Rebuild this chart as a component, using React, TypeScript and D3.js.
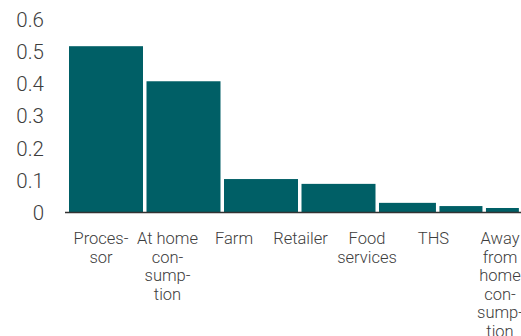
import React from "react";
import * as d3 from "d3";

const categories = ["Processor", "At home consumption", "Farm", "Retailer", "Food services", "THS", "Away from home consumption"];
const labelLines = [
  ["Proces-", "sor"],
  ["At home", "con-", "sump-", "tion"],
  ["Farm"],
  ["Retailer"],
  ["Food", "services"],
  ["THS"],
  ["Away", "from", "home", "con-", "sump-", "tion"],
];
const values = [0.517, 0.408, 0.104, 0.089, 0.03, 0.02, 0.014];
const shares = [1, 1, 1, 1, 0.78, 0.6, 0.47];
const yTicks = [0, 0.1, 0.2, 0.3, 0.4, 0.5, 0.6];

const W = 521;
const H = 336;
const FONT = "Roboto, 'Noto Sans', sans-serif";

export default function App() {
  const y = d3.scaleLinear().domain([0, 0.6]).range([212.5, 19.5]);
  const total = d3.sum(shares);
  const x = d3.scaleLinear().domain([0, total]).range([69, 69 + total * 77.5]);
  const cum = d3.cumsum(shares);
  const starts = shares.map((s, i) => cum[i] - s);
  const xl = d3.scalePoint().domain(categories).range([101, 500]);
  const gap = 3.5;

  return (
    <svg width={W} height={H} style={{ position: "absolute", left: 0, top: 0, display: "block" }}>
      <rect width={W} height={H} fill="#fff" />
      {values.map((v, i) => (
        <rect
          key={i}
          x={x(starts[i])}
          y={y(v)}
          width={x(cum[i]) - x(starts[i]) - gap}
          height={y(0) - y(v)}
          fill="#005F66"
        />
      ))}
      <line x1={65} x2={W} y1={y(0)} y2={y(0)} stroke="#333" strokeWidth={1.6} />
      {yTicks.map((t) => (
        <text
          key={t}
          x={44}
          y={y(t)}
          dy="0.36em"
          textAnchor="end"
          fontFamily={FONT}
          fontWeight={300}
          fontSize={20.5}
          fill="#3d3d3d"
        >
          {d3.format("~g")(t)}
        </text>
      ))}
      {categories.map((c, i) => (
        <text
          key={c}
          x={xl(c)}
          y={244}
          textAnchor="middle"
          fontFamily={FONT}
          fontWeight={300}
          fontSize={16.5}
          fill="#3d3d3d"
        >
          {labelLines[i].map((ln, j) => (
            <tspan key={j} x={xl(c)} dy={j === 0 ? 0 : 18.6}>
              {ln}
            </tspan>
          ))}
        </text>
      ))}
    </svg>
  );
}
